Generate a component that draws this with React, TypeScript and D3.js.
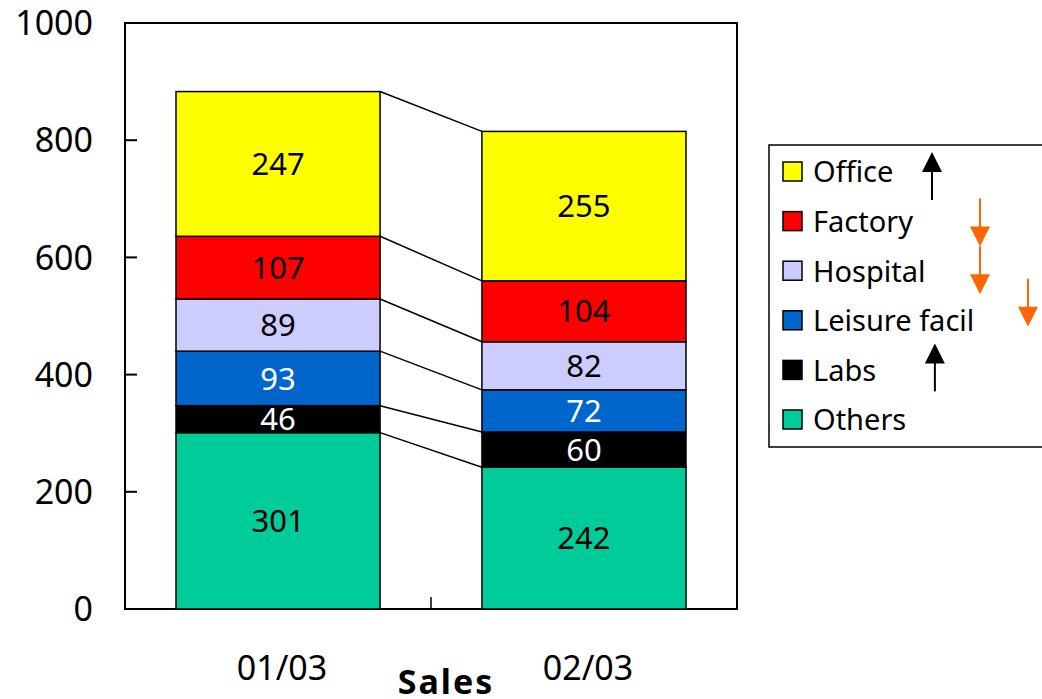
import React, { useEffect, useRef } from 'react';
import * as d3 from 'd3';

const categories = ["01/03", "02/03"];
const seriesNames = ["Others", "Labs", "Leisure facil", "Hospital", "Factory", "Office"];
const others = [301, 242];
const labs = [46, 60];
const leisure = [93, 72];
const hospital = [89, 82];
const factory = [107, 104];
const office = [247, 255];
const colors = ["#00CC99", "#000000", "#0066CC", "#CCCCFF", "#FF0000", "#FFFF00"];
const labelColors = ["#000", "#fff", "#fff", "#000", "#000", "#000"];
const yTicks = [0, 200, 400, 600, 800, 1000];

// trend arrows beside the legend: series name, direction, column
const arrows = [
  { series: "Office", dir: "up", color: "#000", col: 0, shift: 4 },
  { series: "Factory", dir: "down", color: "#FF6600", col: 1, shift: 1 },
  { series: "Hospital", dir: "down", color: "#FF6600", col: 1, shift: -1 },
  { series: "Leisure facil", dir: "down", color: "#FF6600", col: 2, shift: -18 },
  { series: "Labs", dir: "up", color: "#000", col: 0.06, shift: -3 },
];

const W = 1042, H = 699;
const FONT = "'Noto Sans', sans-serif";

function draw(node: SVGSVGElement) {
  const svg = d3.select(node);
  svg.selectAll("*").remove();

  const left = 125, right = 737, top = 23, bottom = 609;

  const table = categories.map((c, i) => ({
    cat: c,
    "Others": others[i],
    "Labs": labs[i],
    "Leisure facil": leisure[i],
    "Hospital": hospital[i],
    "Factory": factory[i],
    "Office": office[i],
  }));
  const stacked = d3.stack<any>().keys(seriesNames)(table);

  const x = d3.scaleBand().domain(categories).range([left, right]).paddingInner(0.333).paddingOuter(0.1667);
  const band = d3.scaleBand().domain(categories).range([left, right]);
  const y = d3.scaleLinear().domain([0, 1000]).range([bottom, top]);

  // 1) plot frame
  svg.append("rect")
    .attr("x", left).attr("y", top)
    .attr("width", right - left).attr("height", bottom - top)
    .attr("fill", "none").attr("stroke", "#000").attr("stroke-width", 2);

  // 2) connector lines between bars
  const c0 = categories[0], c1 = categories[1];
  const boundaries = stacked.map(s => [s[0][1], s[1][1]]);
  svg.selectAll("line.conn")
    .data(boundaries)
    .enter().append("line")
    .attr("x1", (x(c0) || 0) + x.bandwidth())
    .attr("x2", x(c1) || 0)
    .attr("y1", d => y(d[0]))
    .attr("y2", d => y(d[1]))
    .attr("stroke", "#000").attr("stroke-width", 1.5);

  // 3) stacked bars
  stacked.forEach((s, si) => {
    const g = svg.append("g");
    g.selectAll("rect")
      .data(s)
      .enter().append("rect")
      .attr("x", (d: any) => x(d.data.cat) || 0)
      .attr("y", (d: any) => y(d[1]))
      .attr("width", x.bandwidth())
      .attr("height", (d: any) => y(d[0]) - y(d[1]))
      .attr("fill", colors[si])
      .attr("stroke", "#000").attr("stroke-width", 1.5);
    g.selectAll("text")
      .data(s)
      .enter().append("text")
      .attr("x", (d: any) => (x(d.data.cat) || 0) + x.bandwidth() / 2)
      .attr("y", (d: any) => (y(d[0]) + y(d[1])) / 2)
      .attr("dy", "0.36em")
      .attr("text-anchor", "middle")
      .attr("font-family", FONT).attr("font-size", 31)
      .attr("fill", labelColors[si])
      .text((d: any) => d[1] - d[0]);
  });

  // 4) y axis ticks and labels
  svg.selectAll("line.yt")
    .data(yTicks.slice(1, -1))
    .enter().append("line")
    .attr("x1", left).attr("x2", left + 12)
    .attr("y1", d => y(d)).attr("y2", d => y(d))
    .attr("stroke", "#000").attr("stroke-width", 2);
  svg.selectAll("text.yl")
    .data(yTicks)
    .enter().append("text")
    .attr("x", 93).attr("y", d => y(d))
    .attr("dy", "0.36em")
    .attr("text-anchor", "end")
    .attr("font-family", FONT).attr("font-size", 34)
    .attr("fill", "#000")
    .text(d => d);

  // 5) x axis: category divider tick and labels
  svg.append("line")
    .attr("x1", (band(c1) || 0)).attr("x2", (band(c1) || 0))
    .attr("y1", bottom).attr("y2", bottom - 12)
    .attr("stroke", "#000").attr("stroke-width", 1.5);
  svg.selectAll("text.xl")
    .data(categories)
    .enter().append("text")
    .attr("x", d => (band(d) || 0) + band.bandwidth() / 2 + 4)
    .attr("y", 680)
    .attr("text-anchor", "middle")
    .attr("font-family", FONT).attr("font-size", 34)
    .attr("fill", "#000")
    .text(d => d);
  svg.append("text")
    .attr("x", 446).attr("y", 694)
    .attr("text-anchor", "middle")
    .attr("font-family", FONT).attr("font-size", 34).attr("font-weight", "bold")
    .attr("letter-spacing", 2)
    .text("Sales");

  // 6) legend
  const legendNames = seriesNames.slice().reverse();
  const ly = d3.scalePoint().domain(legendNames).range([172, 420]);
  svg.append("rect")
    .attr("x", 769).attr("y", 145)
    .attr("width", 300).attr("height", 302)
    .attr("fill", "#fff").attr("stroke", "#000").attr("stroke-width", 1.5);
  const items = svg.selectAll("g.leg")
    .data(legendNames)
    .enter().append("g")
    .attr("transform", d => `translate(783,${ly(d)})`);
  items.append("rect")
    .attr("x", 0).attr("y", -10).attr("width", 19).attr("height", 19)
    .attr("fill", d => colors[seriesNames.indexOf(d)])
    .attr("stroke", "#000").attr("stroke-width", 1.5);
  items.append("text")
    .attr("x", 30).attr("y", 0).attr("dy", "0.36em")
    .attr("font-family", FONT).attr("font-size", 29)
    .attr("fill", "#000")
    .text(d => d);

  // 7) trend arrows
  const ax = d3.scaleLinear().domain([0, 1, 2]).range([932, 980, 1028]);
  arrows.forEach(a => {
    const cx = ax(a.col);
    const cy = (ly(a.series) || 0) + a.shift;
    const s = a.dir === "up" ? -1 : 1;
    const tip = cy + s * 24;
    const tail = cy - s * 24;
    svg.append("line")
      .attr("x1", cx).attr("x2", cx)
      .attr("y1", tail).attr("y2", tip - s * 18)
      .attr("stroke", a.color).attr("stroke-width", 2);
    svg.append("path")
      .attr("d", `M${cx},${tip} L${cx - 10},${tip - s * 20} L${cx + 10},${tip - s * 20} Z`)
      .attr("fill", a.color);
  });
}

export default function App() {
  const ref = useRef<SVGSVGElement>(null);
  useEffect(() => {
    if (ref.current) draw(ref.current);
  }, []);
  return (
    <svg
      ref={ref}
      width={W}
      height={H}
      style={{ position: "fixed", left: 0, top: 0, background: "#fff" }}
    />
  );
}
